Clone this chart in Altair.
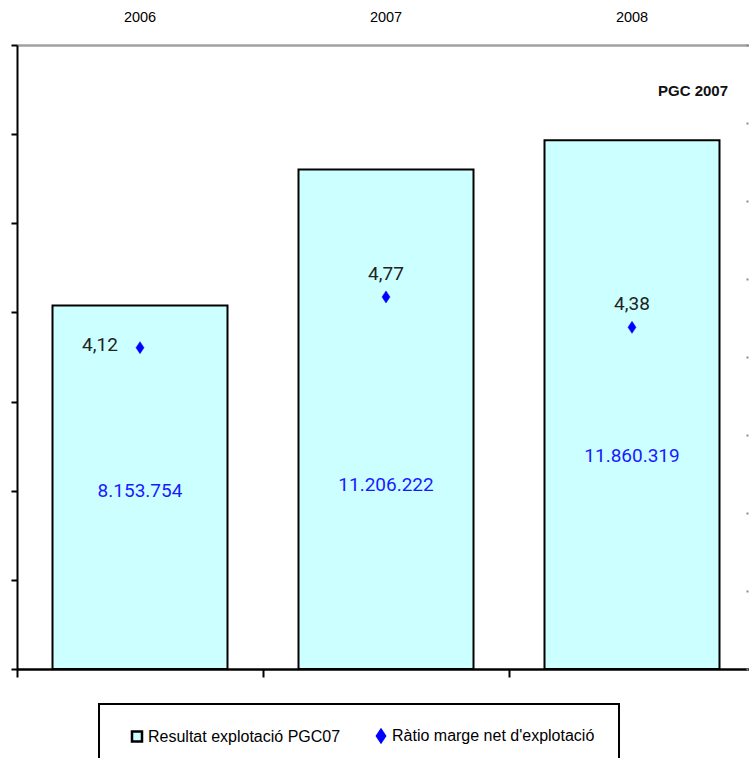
import altair as alt
import pandas as pd

# Chart data
years = ["2006", "2007", "2008"]
resultat = [8153754, 11206222, 11860319]          # Resultat explotació PGC07
ratio = [4.12, 4.77, 4.38]                         # Ràtio marge net d'explotació

serie_bar = "Resultat explotació PGC07"
serie_pt = "Ràtio marge net d'explotació"

# Vertical placement of the amount labels inside the bars (left-axis units)
amount_label_pos = [3.99e6, 4.13e6, 4.78e6]

NARROW = "Liberation Sans Narrow, Liberation Sans, Arial Narrow, sans-serif"
NUMFONT = "Roboto, Noto Sans, sans-serif"

bars_df = pd.DataFrame({"any": years, "valor": resultat, "pos": amount_label_pos, "serie": serie_bar})
ratio_df = pd.DataFrame({"any": years, "ratio": ratio, "serie": serie_pt})

x_scale = alt.Scale(domain=years, range=[0, 738], paddingInner=0, paddingOuter=0)

x_bottom = alt.Axis(orient="bottom", title=None, labels=False, tickBand="extent",
                    domainColor="black", domainWidth=2.5, tickColor="black",
                    tickWidth=2, tickSize=8, grid=False)
x_top = alt.Axis(orient="top", title=None, ticks=False, domainColor="#a0a0a0",
                 domainWidth=2.5, labelFont=NARROW, labelFontSize=14.5, labelColor="black",
                 labelPadding=21, labelAngle=0, grid=False)

y_left = alt.Axis(orient="left", title=None, labels=False, grid=False,
                  values=[0, 2e6, 4e6, 6e6, 8e6, 10e6, 12e6, 14e6],
                  domainColor="black", domainWidth=2, tickColor="black",
                  tickWidth=2, tickSize=6)
y_right = alt.Axis(orient="right", title=None, labels=False, grid=False, domain=False,
                   values=list(range(0, 9)), tickColor="#8a8a8a", tickWidth=2,
                   tickSize=2, offset=-3)

y_left_scale = alt.Scale(domain=[0, 14e6], nice=False, zero=True)
y_right_scale = alt.Scale(domain=[0, 8], nice=False, zero=True)

color_scale = alt.Scale(domain=[serie_bar, serie_pt], range=["#CCFFFF", "#0000FF"])
stroke_scale = alt.Scale(domain=[serie_bar, serie_pt], range=["black", "#0000FF"])
shape_scale = alt.Scale(domain=[serie_bar, serie_pt],
                        range=["square", "M0,-1.2L0.8,0L0,1.2L-0.8,0Z"])

legend = alt.Legend(
    title=None, orient="none", legendX=82, legendY=659, direction="horizontal",
    strokeColor="black", padding=24, symbolOffset=6, labelFont=NARROW,
    labelFontSize=16, labelColor="black", columnPadding=26, symbolSize=100,
    symbolStrokeWidth=2.5, labelOffset=3, labelLimit=400,
)

bars = alt.Chart(bars_df).mark_bar(size=175, strokeWidth=2).encode(
    x=alt.X("any:N", scale=x_scale, axis=x_bottom, sort=years),
    y=alt.Y("valor:Q", scale=y_left_scale, axis=y_left),
    color=alt.Color("serie:N", scale=color_scale, legend=legend),
    stroke=alt.Stroke("serie:N", scale=stroke_scale, legend=legend),
)

amount_text = alt.Chart(bars_df).transform_calculate(
    etiqueta="format(datum.valor, ',d')"
).mark_text(font=NUMFONT, fontSize=19, color="#1a1aff", baseline="middle").encode(
    x=alt.X("any:N", scale=x_scale, axis=x_bottom, sort=years),
    y=alt.Y("pos:Q", scale=y_left_scale, axis=y_left),
    text="etiqueta:N",
)

pgc = alt.Chart(bars_df).transform_filter("datum.any === '2008'").mark_text(
    text="PGC 2007", font="Liberation Sans, Arial, sans-serif", fontSize=15,
    fontWeight="bold", color="#111111", baseline="middle"
).encode(x=alt.value(676), y=alt.value(46))

left_layer = alt.layer(bars, amount_text, pgc)

points = alt.Chart(ratio_df).mark_point(filled=True, size=100, opacity=1, strokeWidth=0.5).encode(
    x=alt.X("any:N", scale=x_scale, axis=x_top, sort=years),
    y=alt.Y("ratio:Q", scale=y_right_scale, axis=y_right),
    color=alt.Color("serie:N", scale=color_scale, legend=legend),
    stroke=alt.Stroke("serie:N", scale=stroke_scale, legend=legend),
    shape=alt.Shape("serie:N", scale=shape_scale, legend=legend),
)

ratio_fmt = "format(datum.ratio, '.2f')"

ratio_text_left = alt.Chart(ratio_df).transform_filter("datum.any === '2006'").transform_calculate(
    etiqueta=ratio_fmt
).mark_text(font=NUMFONT, fontSize=19, color="#222222", baseline="middle", dx=-40, dy=-3).encode(
    x=alt.X("any:N", scale=x_scale, axis=x_top, sort=years),
    y=alt.Y("ratio:Q", scale=y_right_scale, axis=y_right),
    text="etiqueta:N",
)

ratio_text_above = alt.Chart(ratio_df).transform_filter("datum.any !== '2006'").transform_calculate(
    etiqueta=ratio_fmt
).mark_text(font=NUMFONT, fontSize=19, color="#222222", baseline="middle", dy=-23).encode(
    x=alt.X("any:N", scale=x_scale, axis=x_top, sort=years),
    y=alt.Y("ratio:Q", scale=y_right_scale, axis=y_right),
    text="etiqueta:N",
)

right_layer = alt.layer(points, ratio_text_left, ratio_text_above)

chart = alt.layer(left_layer, right_layer).resolve_scale(
    y="independent"
).resolve_axis(
    x="independent", y="independent"
).properties(
    width=732, height=624,
    autosize=alt.AutoSizeParams(type="none"),
    padding={"left": 17, "top": 45, "right": 0, "bottom": 89},
).configure(
    locale={"number": {"decimal": ",", "thousands": ".", "grouping": [3],
                       "currency": ["", " €"]}}
).configure_view(stroke="transparent").configure_legend(strokeWidth=2)

chart.save("out.html", embed_options={"renderer": "svg", "actions": False})
